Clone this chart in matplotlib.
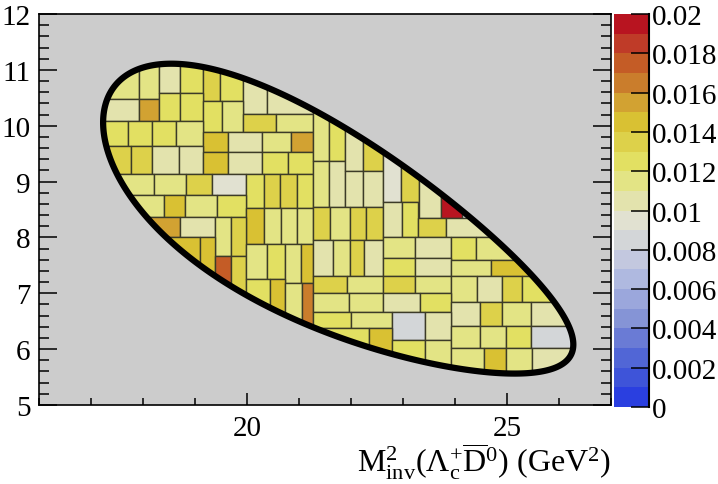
import numpy as np
import matplotlib
matplotlib.use('Agg')
import matplotlib.pyplot as plt
from matplotlib.patches import Rectangle, Polygon
from matplotlib.collections import PatchCollection
from matplotlib.colors import ListedColormap, BoundaryNorm
from matplotlib.ticker import MultipleLocator

plt.rcParams['font.family'] = ['Liberation Serif', 'DejaVu Serif']
plt.rcParams['mathtext.fontset'] = 'custom'
plt.rcParams['mathtext.rm'] = 'Liberation Serif'
plt.rcParams['mathtext.it'] = 'Liberation Serif:italic'

# masses (GeV) for Lambda_b -> Lambda_c+ D0bar K-
m_lb = 5.61960
m_lc = 2.28646
m_d0 = 1.86484
m_k = 0.493677

# adaptive bins: edges in GeV^2 and efficiency
bin_xlo = [16.5, 17.92, 18.30, 18.72, 19.15, 19.49, 19.93, 20.39,
           16.5, 17.92, 18.30, 18.72, 19.15, 19.51, 19.93, 20.56,
           16.5, 17.71, 18.17, 18.63, 19.15, 19.64, 20.28, 20.85,
           16.5, 17.76, 18.17, 18.69, 19.15, 19.64, 20.28, 20.78,
           16.5, 18.21, 18.82, 19.32, 19.99, 20.32, 20.64, 20.97,
           16.5, 18.40, 18.80, 19.43, 19.99, 20.32, 20.66, 20.97,
           16.5, 18.72, 19.38, 19.70, 17.0, 19.09, 19.38, 19.70,
           19.99, 20.39, 20.74, 21.04, 19.99, 20.45, 20.74, 21.06,
           21.27, 21.27, 21.58, 21.58, 21.89, 21.89, 22.23, 22.23,
           22.62, 22.96, 23.31, 23.73,
           21.27, 21.60, 21.98, 22.29, 22.62, 22.98, 23.29, 23.83,
           21.27, 21.66, 21.98, 22.25, 22.62, 23.23, 23.92, 24.40,
           22.62, 23.23, 23.92, 24.69,
           21.27, 21.93, 22.62, 23.23, 23.92, 24.42, 24.90, 25.28,
           21.27, 21.96, 22.62, 23.33, 23.92, 24.48, 24.90, 25.46,
           21.27, 22.00, 22.79, 23.42, 21.27, 22.35, 22.79, 23.42,
           23.92, 24.48, 24.98, 25.47, 23.92, 24.55, 24.98, 25.49]
bin_xhi = [17.92, 18.30, 18.72, 19.15, 19.49, 19.93, 20.39, 21.27,
           17.92, 18.30, 18.72, 19.15, 19.51, 19.93, 20.56, 21.27,
           17.71, 18.17, 18.63, 19.15, 19.64, 20.28, 20.85, 21.27,
           17.76, 18.17, 18.69, 19.15, 19.64, 20.28, 20.78, 21.27,
           18.21, 18.82, 19.32, 19.99, 20.32, 20.64, 20.97, 21.27,
           18.40, 18.80, 19.43, 19.99, 20.32, 20.66, 20.97, 21.27,
           18.72, 19.38, 19.70, 19.99, 19.09, 19.38, 19.70, 19.99,
           20.39, 20.74, 21.04, 21.27, 20.45, 20.74, 21.06, 21.27,
           21.58, 21.58, 21.89, 21.89, 22.23, 22.23, 22.62, 22.62,
           22.96, 23.31, 23.73, 24.13,
           21.60, 21.98, 22.29, 22.62, 22.98, 23.29, 23.83, 24.84,
           21.66, 21.98, 22.25, 22.62, 23.23, 23.92, 24.40, 25.42,
           23.23, 23.92, 24.69, 25.61,
           21.93, 22.62, 23.23, 23.92, 24.42, 24.90, 25.28, 25.99,
           21.96, 22.62, 23.33, 23.92, 24.48, 24.90, 25.46, 26.38,
           22.00, 22.79, 23.42, 23.92, 22.35, 22.79, 23.42, 23.92,
           24.48, 24.98, 25.47, 26.57, 24.55, 24.98, 25.49, 26.57]
bin_ylo = [10.48, 10.48, 10.59, 10.59, 10.44, 10.44, 10.21, 10.21,
           10.08, 10.08, 10.08, 10.08, 9.89, 9.89, 9.89, 9.89,
           9.64, 9.64, 9.64, 9.64, 9.53, 9.53, 9.53, 9.53,
           9.14, 9.14, 9.14, 9.14, 9.14, 9.14, 9.14, 9.14,
           8.76, 8.76, 8.76, 8.76, 8.53, 8.53, 8.53, 8.53,
           8.37, 8.37, 8.37, 8.37, 7.88, 7.88, 7.88, 7.88,
           8.01, 8.01, 7.67, 7.67, 6.90, 6.90, 6.90, 6.90,
           7.26, 7.26, 7.18, 7.18, 6.54, 6.54, 6.36, 6.36,
           9.37, 8.54, 9.37, 8.54, 9.19, 8.54, 9.19, 8.54,
           8.63, 8.63, 8.35, 8.35,
           7.95, 7.95, 7.95, 7.95, 8.01, 8.01, 8.01, 8.01,
           7.31, 7.31, 7.31, 7.31, 7.63, 7.63, 7.60, 7.60,
           7.31, 7.31, 7.31, 7.31,
           7.01, 7.01, 7.01, 7.01, 6.84, 6.84, 6.84, 6.84,
           6.67, 6.67, 6.67, 6.67, 6.41, 6.41, 6.41, 6.41,
           6.38, 6.38, 6.16, 6.16, 5.47, 5.47, 5.47, 5.47,
           6.02, 6.02, 6.02, 6.02, 5.29, 5.29, 5.29, 5.29]
bin_yhi = [11.5, 11.5, 11.5, 11.5, 11.5, 11.5, 11.5, 11.5,
           10.48, 10.48, 10.59, 10.59, 10.44, 10.44, 10.21, 10.21,
           10.08, 10.08, 10.08, 10.08, 9.89, 9.89, 9.89, 9.89,
           9.64, 9.64, 9.64, 9.64, 9.53, 9.53, 9.53, 9.53,
           9.14, 9.14, 9.14, 9.14, 9.14, 9.14, 9.14, 9.14,
           8.76, 8.76, 8.76, 8.76, 8.53, 8.53, 8.53, 8.53,
           8.37, 8.37, 8.37, 8.37, 8.01, 8.01, 7.67, 7.67,
           7.88, 7.88, 7.88, 7.88, 7.26, 7.26, 7.18, 7.18,
           10.48, 9.37, 10.48, 9.37, 10.48, 9.19, 10.48, 9.19,
           10.48, 10.48, 10.48, 10.48,
           8.54, 8.54, 8.54, 8.54, 8.63, 8.63, 8.35, 8.35,
           7.95, 7.95, 7.95, 7.95, 8.01, 8.01, 8.01, 8.01,
           7.63, 7.63, 7.60, 7.60,
           7.31, 7.31, 7.31, 7.31, 7.31, 7.31, 7.31, 7.31,
           7.01, 7.01, 7.01, 7.01, 6.84, 6.84, 6.84, 6.84,
           6.67, 6.67, 6.67, 6.67, 6.38, 6.38, 6.16, 6.16,
           6.41, 6.41, 6.41, 6.41, 6.02, 6.02, 6.02, 6.02]
efficiency = [.0115, .0115, .0105, .0125, .0135, .0125, .0105, .0105,
              .0105, .0155, .0125, .0125, .0125, .0115, .0135, .0115,
              .0125, .0125, .0125, .0115, .0145, .0105, .0115, .0155,
              .0135, .0135, .0105, .0105, .0145, .0105, .0125, .0125,
              .0115, .0115, .0135, .0095, .0125, .0135, .0135, .0125,
              .0115, .0145, .0115, .0125, .0145, .0115, .0115, .0115,
              .0155, .0105, .0115, .0135, .0145, .0145, .0175, .0135,
              .0115, .0125, .0115, .0145, .0125, .0145, .0115, .0165,
              .0115, .0115, .0125, .0105, .0105, .0105, .0135, .0105,
              .0095, .0135, .0105, .0195,
              .0135, .0115, .0135, .0135, .0105, .0125, .0135, .0105,
              .0105, .0115, .0135, .0105, .0115, .0105, .0125, .0115,
              .0125, .0105, .0115, .0145,
              .0135, .0115, .0135, .0115, .0115, .0105, .0135, .0125,
              .0115, .0115, .0105, .0125, .0105, .0135, .0115, .0105,
              .0125, .0115, .0085, .0105, .0125, .0145, .0125, .0115,
              .0115, .0115, .0125, .0085, .0115, .0145, .0115, .0105]

palette = ['#2a3fe0', '#3e54d9', '#5166d6', '#6a7bd5', '#8594d6',
           '#9ba7dc', '#afb9e0', '#c3c8df', '#d3d6d8', '#e1e1d1',
           '#e3e3ad', '#e3e485', '#e2e062', '#ddd14a', '#d9c133',
           '#d2a232', '#ca7d2c', '#c45c26', '#bf3b28', '#b81420']
levels = np.linspace(0, 0.02, 21)
cmap = ListedColormap(palette)
norm = BoundaryNorm(levels, cmap.N)


def dalitz_boundary(n=400):
    t = np.linspace(0, np.pi, n)
    smin = (m_lc + m_d0)**2
    smax = (m_lb - m_k)**2
    s = smin + (smax - smin) * (1 - np.cos(t)) / 2
    rs = np.sqrt(s)
    e2 = (s - m_lc**2 + m_d0**2) / (2 * rs)
    e3 = (m_lb**2 - s - m_k**2) / (2 * rs)
    p2 = np.sqrt(np.clip(e2**2 - m_d0**2, 0, None))
    p3 = np.sqrt(np.clip(e3**2 - m_k**2, 0, None))
    hi = (e2 + e3)**2 - (p2 - p3)**2
    lo = (e2 + e3)**2 - (p2 + p3)**2
    xs = np.concatenate([s, s[::-1]])
    ys = np.concatenate([hi, lo[::-1]])
    return np.column_stack([xs, ys])


fig = plt.figure(figsize=(7.18, 4.85), dpi=100)
ax = fig.add_axes([0.0543, 0.1629, 0.7967, 0.8062])
ax.set_facecolor('#cccccc')

edge = Polygon(dalitz_boundary(), closed=True, fill=False,
               edgecolor='black', linewidth=4.5, zorder=3)
ax.add_patch(edge)

rects = [Rectangle((x0, y0), x1 - x0, y1 - y0)
         for x0, x1, y0, y1 in zip(bin_xlo, bin_xhi, bin_ylo, bin_yhi)]
pc = PatchCollection(rects, cmap=cmap, norm=norm,
                     edgecolor='#3c3b28', linewidth=1.0, zorder=2)
pc.set_array(np.array(efficiency))
ax.add_collection(pc)
pc.set_clip_path(edge)

ax.set_xlim(16, 27)
ax.set_ylim(5, 12)
ax.set_xticks([20, 25])
ax.xaxis.set_minor_locator(MultipleLocator(1))
ax.yaxis.set_major_locator(MultipleLocator(1))
ax.yaxis.set_minor_locator(MultipleLocator(0.2))
ax.tick_params(axis='both', which='both', direction='in', labelsize=21,
               width=1.1, color='black')
ax.tick_params(axis='y', which='both', left=True, right=True)
ax.tick_params(axis='y', which='major', length=13, pad=6)
ax.tick_params(axis='y', which='minor', length=7)
ax.tick_params(axis='x', which='major', length=9, pad=7)
ax.tick_params(axis='x', which='minor', length=5)
for sp in ax.spines.values():
    sp.set_linewidth(1.2)

ax.set_xlabel(r'$\mathrm{M^{2}_{inv}(\Lambda_{c}^{+}\overline{D}^{0})}$ (GeV$^{2}$)',
              fontsize=23, loc='right', labelpad=0)

# colour scale
cax = fig.add_axes([0.8552, 0.1588, 0.0487, 0.810])
sm = plt.cm.ScalarMappable(cmap=cmap, norm=norm)
cb = fig.colorbar(sm, cax=cax, boundaries=levels, ticks=np.arange(0, 0.0201, 0.002))
cb.outline.set_visible(False)
cb.ax.set_yticklabels(['{:g}'.format(round(v, 3)) for v in np.arange(0, 0.0201, 0.002)])
cb.ax.tick_params(direction='in', length=13, width=1.1, labelsize=21, pad=2)
cb.ax.minorticks_off()
cax.plot([1, 1], [0, 1], transform=cax.transAxes, color='black',
         linewidth=1.5, clip_on=False)

fig.savefig('out.png', dpi=100)
